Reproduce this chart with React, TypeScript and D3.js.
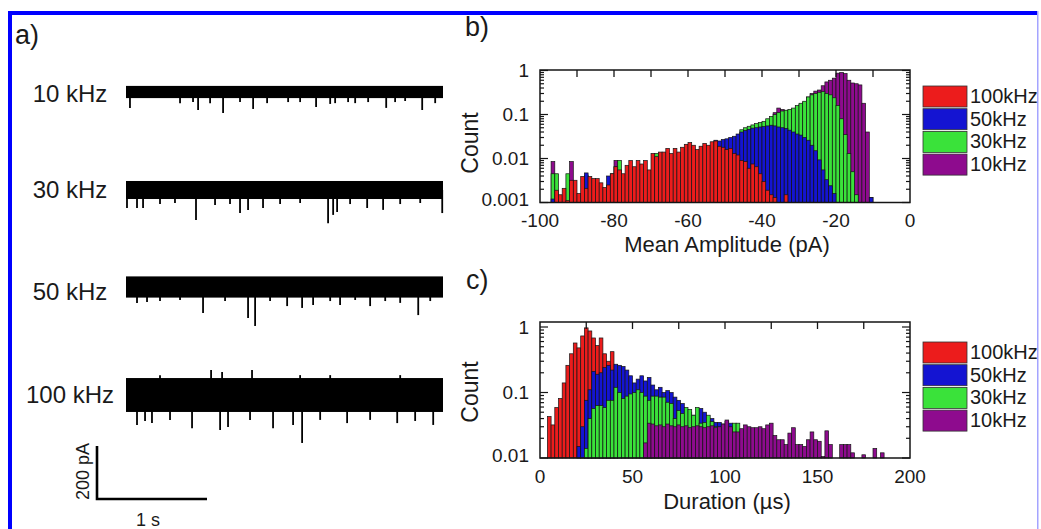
import React from "react";
import * as d3 from "d3";

const W = 1041;
const H = 529;
const FONT = "Liberation Sans, Arial, Helvetica, sans-serif";
const INK = "#1a1a1a";

// ---------- Panel a: current traces ----------
const traceLabels = ["10 kHz", "30 kHz", "50 kHz", "100 kHz"];
// half-width of the open-pore noise band, pA
const traceNoise = [23, 34, 40, 64];
// spikes: [time s, amplitude pA]
const spikes10kHz: [number, number][] = [
  [0.036, -60], [0.655, -68], [0.882, -79], [1.155, -64], [1.727, -57], [2.364, -60], [2.691, -68],
  [0.491, -42], [0.609, -38], [0.764, -42], [1.036, -38], [1.282, -42], [1.473, -38], [1.582, -38],
  [1.855, -45], [1.9, -42], [2.018, -38], [2.082, -42], [2.2, -38], [2.445, -38], [2.536, -34], [2.809, -42],
];
const spikes30kHz: [number, number][] = [
  [0.009, -68], [0.1, -68], [0.155, -68], [0.636, -113], [1.036, -87], [1.109, -75], [1.245, -68],
  [1.836, -125], [1.882, -94], [1.918, -83], [2.191, -68], [2.336, -75], [2.873, -87],
  [0.309, -53], [0.445, -49], [0.809, -57], [0.945, -53], [1.4, -53], [1.582, -49], [2.036, -53],
  [2.491, -53], [2.673, -49],
];
const spikes50kHz: [number, number][] = [
  [0.1, -60], [0.191, -57], [0.7, -98], [1.109, -117], [1.173, -147], [1.464, -72], [1.6, -79],
  [1.7, -68], [1.945, -68], [2.218, -72], [2.491, -60], [2.655, -106],
  [0.309, -53], [0.491, -49], [0.9, -53], [1.309, -53], [1.855, -53], [2.082, -49], [2.355, -53], [2.764, -53],
];
const spikes100kHz: [number, number][] = [
  [0.773, 94], [1.145, 94], [0.873, 87], [0.309, 75], [1.582, 75], [1.855, 75], [2.491, 75],
  [0.1, -113], [0.236, -106], [0.6, -125], [0.855, -132], [0.927, -121], [1.336, -125], [1.518, -113],
  [1.6, -181], [2.009, -106], [2.464, -106], [2.791, -113],
  [0.173, -98], [0.4, -94], [1.127, -94], [1.764, -94], [2.218, -94], [2.627, -98],
];
const traceSpikes = [spikes10kHz, spikes30kHz, spikes50kHz, spikes100kHz];
const traceDuration = 2.88; // s

// ---------- Panel b: mean amplitude histograms [bin left edge pA, normalized count] ----------
const amp100kHz: [number, number][] = [
  [-96, 0.0019], [-95, 0.0015], [-94, 0.0021], [-93, 0.0011], [-92, 0.0032], [-91, 0.0032], [-90, 0.0016],
  [-89, 0.0039], [-88, 0.0021], [-87, 0.0039], [-86, 0.0035], [-85, 0.0035], [-84, 0.0028], [-83, 0.0022],
  [-82, 0.0025], [-81, 0.0045], [-80, 0.0065], [-79, 0.0055], [-78, 0.0045], [-77, 0.007], [-76, 0.009],
  [-75, 0.0065], [-74, 0.009], [-73, 0.0075], [-72, 0.009], [-71, 0.0055], [-70, 0.013], [-69, 0.011],
  [-68, 0.014], [-67, 0.014], [-66, 0.017], [-65, 0.013], [-64, 0.017], [-63, 0.014], [-62, 0.018],
  [-61, 0.021], [-60, 0.023], [-59, 0.02], [-58, 0.016], [-57, 0.019], [-56, 0.022], [-55, 0.02],
  [-54, 0.024], [-53, 0.025], [-52, 0.019], [-51, 0.018], [-50, 0.016], [-49, 0.017], [-48, 0.013],
  [-47, 0.012], [-46, 0.009], [-45, 0.0085], [-44, 0.006], [-43, 0.0075], [-42, 0.0065], [-41, 0.0045],
  [-40, 0.003], [-39, 0.0019], [-38, 0.0015], [-37, 0.0013], [-34, 0.0015],
];
const amp50kHz: [number, number][] = [
  [-97, 0.0012], [-88, 0.0047], [-82, 0.004], [-81, 0.003],
  [-53, 0.026], [-52, 0.025], [-51, 0.027], [-50, 0.028], [-49, 0.03], [-48, 0.032], [-47, 0.036],
  [-46, 0.04], [-45, 0.043], [-44, 0.046], [-43, 0.049], [-42, 0.05], [-41, 0.052], [-40, 0.053],
  [-39, 0.055], [-38, 0.057], [-37, 0.055], [-36, 0.052], [-35, 0.05], [-34, 0.048], [-33, 0.044],
  [-32, 0.04], [-31, 0.036], [-30, 0.034], [-29, 0.03], [-28, 0.026], [-27, 0.02], [-26, 0.015],
  [-25, 0.0093], [-24, 0.0055], [-23, 0.0033], [-22, 0.0024], [-21, 0.0016], [-11, 0.0013],
];
const amp30kHz: [number, number][] = [
  [-97, 0.0045], [-96, 0.0045], [-93, 0.0045], [-88, 0.0042], [-81, 0.0045], [-80, 0.0065], [-79, 0.009],
  [-69, 0.013],
  [-46, 0.045], [-45, 0.05], [-44, 0.054], [-43, 0.058], [-42, 0.062], [-41, 0.066], [-40, 0.07],
  [-39, 0.08], [-38, 0.09], [-37, 0.1], [-36, 0.11], [-35, 0.12], [-34, 0.125], [-33, 0.13], [-32, 0.14],
  [-31, 0.16], [-30, 0.18], [-29, 0.2], [-28, 0.25], [-27, 0.28], [-26, 0.3], [-25, 0.32], [-24, 0.33],
  [-23, 0.3], [-22, 0.28], [-21, 0.24], [-20, 0.16], [-19, 0.08], [-18, 0.035], [-17, 0.013],
  [-16, 0.005], [-15, 0.0015],
];
const amp10kHz: [number, number][] = [
  [-97, 0.0085], [-92, 0.0085], [-80, 0.009],
  [-37, 0.11], [-36, 0.14], [-35, 0.13], [-34, 0.12], [-33, 0.125], [-32, 0.13], [-31, 0.15], [-30, 0.17],
  [-29, 0.19], [-28, 0.25], [-27, 0.3], [-26, 0.34], [-25, 0.36], [-24, 0.45], [-23, 0.55], [-22, 0.6],
  [-21, 0.67], [-20, 0.87], [-19, 0.9], [-18, 0.85], [-17, 0.6], [-16, 0.52], [-15, 0.5], [-14, 0.47],
  [-13, 0.18], [-12, 0.04], [-11, 0.0013],
];

// ---------- Panel c: duration histograms [bin left edge µs, normalized count] ----------
const dur100kHz: [number, number][] = [
  [4, 0.043], [6, 0.032], [8, 0.059], [10, 0.081], [12, 0.14], [14, 0.26], [16, 0.39], [18, 0.57],
  [20, 0.48], [22, 0.73], [24, 0.97], [26, 0.87], [28, 0.68], [30, 0.52], [32, 0.68], [34, 0.39],
  [36, 0.3], [38, 0.42], [40, 0.2],
];
const dur50kHz: [number, number][] = [
  [20, 0.015], [22, 0.03], [24, 0.076], [26, 0.11], [28, 0.21], [30, 0.19], [32, 0.2], [34, 0.24],
  [36, 0.26], [38, 0.22], [40, 0.27], [42, 0.26], [44, 0.25], [46, 0.22], [48, 0.18], [50, 0.14],
  [52, 0.16], [54, 0.18], [56, 0.15], [58, 0.17], [60, 0.13], [62, 0.11], [64, 0.12], [66, 0.1],
  [68, 0.107], [70, 0.1], [72, 0.085], [74, 0.076], [76, 0.068], [78, 0.055], [80, 0.05], [82, 0.045],
  [84, 0.04], [86, 0.057], [88, 0.05], [90, 0.034], [92, 0.04], [94, 0.035], [96, 0.035], [98, 0.033],
  [100, 0.036], [102, 0.034], [104, 0.028],
];
const dur30kHz: [number, number][] = [
  [24, 0.014], [26, 0.04], [28, 0.057], [30, 0.063], [32, 0.063], [34, 0.059], [36, 0.076], [38, 0.076],
  [40, 0.12], [42, 0.1], [44, 0.081], [46, 0.088], [48, 0.095], [50, 0.1], [52, 0.11], [54, 0.1],
  [56, 0.088], [58, 0.076], [60, 0.088], [62, 0.088], [64, 0.085], [66, 0.085], [68, 0.071], [70, 0.068],
  [72, 0.04], [74, 0.053], [76, 0.048], [78, 0.059], [80, 0.055], [82, 0.045], [84, 0.059], [86, 0.034],
  [88, 0.035], [90, 0.045], [92, 0.036], [94, 0.03], [96, 0.028], [98, 0.025], [100, 0.03], [102, 0.028],
  [104, 0.034], [106, 0.034], [108, 0.02],
];
const dur10kHz: [number, number][] = [
  [56, 0.017], [58, 0.034], [60, 0.033], [62, 0.031], [64, 0.032], [66, 0.03], [68, 0.033], [70, 0.031],
  [72, 0.03], [74, 0.032], [76, 0.03], [78, 0.031], [80, 0.029], [82, 0.03], [84, 0.031], [86, 0.03],
  [88, 0.029], [90, 0.03], [92, 0.031], [94, 0.029], [96, 0.03], [98, 0.033], [100, 0.038], [102, 0.03],
  [104, 0.025], [106, 0.025], [108, 0.028], [110, 0.032], [112, 0.03], [114, 0.029], [116, 0.029],
  [118, 0.03], [120, 0.028], [122, 0.032], [124, 0.034], [126, 0.022], [128, 0.019], [130, 0.019],
  [132, 0.016], [134, 0.024], [136, 0.029], [138, 0.016], [140, 0.016], [142, 0.015], [144, 0.019],
  [146, 0.025], [148, 0.019], [150, 0.018], [152, 0.0105], [154, 0.026], [156, 0.016], [162, 0.016],
  [164, 0.016], [166, 0.016], [168, 0.012], [174, 0.0112], [180, 0.014], [184, 0.012],
];

const seriesNames = ["100kHz", "50kHz", "30kHz", "10kHz"];
const seriesColors = ["#ec1c1c", "#1414d2", "#3ae23a", "#8e0b8e"];

const ampTickLabels = [-100, -80, -60, -40, -20, 0];
const ampTopTicks = [-90, -80, -70, -60, -50, -40, -30, -20, -10];
const durTickLabels = [0, 50, 100, 150, 200];
const durTopTicks = [25, 50, 75, 100, 125, 150, 175];
const ampYLabels: [number, string][] = [[1, "1"], [0.1, "0.1"], [0.01, "0.01"], [0.001, "0.001"]];
const durYLabels: [number, string][] = [[1, "1"], [0.1, "0.1"], [0.01, "0.01"]];

// ---------- components ----------
function Trace({ idx, center, labelY }: { idx: number; center: number; labelY: number }) {
  const x = d3.scaleLinear().domain([0, traceDuration]).range([126, 443]);
  const y = d3.scaleLinear().domain([0, 200]).range([center, center - 53]);
  const n = traceNoise[idx];
  return (
    <g>
      <text x={70} y={labelY} textAnchor="middle" fontSize={24} fontFamily={FONT} fill={INK}>
        {traceLabels[idx]}
      </text>
      <rect x={x(0)} y={y(n)} width={x(traceDuration) - x(0)} height={y(-n) - y(n)} fill="#000" />
      {traceSpikes[idx].map(([t, a], i) => (
        <line key={i} x1={x(t)} x2={x(t)} y1={y(0)} y2={y(a)} stroke="#000" strokeWidth={1.8} />
      ))}
    </g>
  );
}

function Bars({ data, color, x, y, w }: { data: [number, number][]; color: string; x: any; y: any; w: number }) {
  const y0 = y.range()[0];
  return (
    <g>
      {data
        .filter((d) => d[1] > y.domain()[0])
        .map(([b, v], i) => (
          <rect
            key={i}
            x={x(b)}
            y={y(v)}
            width={x(b + w) - x(b)}
            height={y0 - y(v)}
            fill={color}
            stroke="#151515"
            strokeWidth={0.7}
          />
        ))}
    </g>
  );
}

function LogTicks({ y, x0, x1 }: { y: any; x0: number; x1: number }) {
  const [lo, hi] = y.domain();
  const ticks: { v: number; major: boolean }[] = [];
  for (let e = Math.round(Math.log10(lo)); e <= Math.log10(hi) + 0.5; e++) {
    const d = Math.pow(10, e);
    for (let k = 1; k <= 9; k++) {
      const v = d * k;
      if (v >= lo * 0.999 && v <= hi * 1.2) ticks.push({ v, major: k === 1 });
    }
  }
  const top = Math.min(...y.range());
  return (
    <g stroke="#151515" strokeWidth={1.2}>
      {ticks
        .filter((t) => y(t.v) >= top - 0.5)
        .map((t, i) => (
          <g key={i}>
            <line x1={x0} x2={x0 + (t.major ? 8 : 4)} y1={y(t.v)} y2={y(t.v)} />
            <line x1={x1} x2={x1 - (t.major ? 8 : 4)} y1={y(t.v)} y2={y(t.v)} />
          </g>
        ))}
    </g>
  );
}

function Legend({ top }: { top: number }) {
  return (
    <g>
      {seriesNames.map((s, i) => (
        <g key={s}>
          <rect x={923} y={top + i * 22.7} width={44} height={21} fill={seriesColors[i]} stroke="#333" strokeWidth={0.8} />
          <text x={970} y={top + i * 22.7 + 17} fontSize={20} fontFamily={FONT} fill={INK}>
            {s}
          </text>
        </g>
      ))}
    </g>
  );
}

function Histogram({
  x, y, top, series, order, w, xTicks, topTicks, yLabels, xLabelY, title, titleY, countY, legendTop, fmt,
}: any) {
  const [yb] = y.range();
  const [xl, xr] = x.range();
  return (
    <g>
      {order.map((si: number) => (
        <Bars key={si} data={series[si]} color={seriesColors[si]} x={x} y={y} w={w} />
      ))}
      <rect x={xl} y={top} width={xr - xl} height={yb - top} fill="none" stroke="#151515" strokeWidth={1.5} />
      <g stroke="#151515" strokeWidth={1.3}>
        {topTicks.map((t: number) => (
          <line key={t} x1={x(t)} x2={x(t)} y1={top} y2={top + 7} />
        ))}
      </g>
      <LogTicks y={y} x0={xl} x1={xr} />
      {yLabels.map(([v, s]: [number, string]) => (
        <text key={s} x={529} y={Math.min(y(v), yb - 3)} dy="0.35em" textAnchor="end" fontSize={19} fontFamily={FONT} fill={INK}>
          {s}
        </text>
      ))}
      {xTicks.map((t: number) => (
        <text key={t} x={x(t)} y={xLabelY} textAnchor="middle" fontSize={19} fontFamily={FONT} fill={INK}>
          {fmt(t)}
        </text>
      ))}
      <text x={(xl + xr) / 2 + 2} y={titleY} textAnchor="middle" fontSize={22} fontFamily={FONT} fill={INK}>
        {title}
      </text>
      <text
        transform={`translate(478,${countY}) rotate(-90)`}
        textAnchor="middle"
        fontSize={23}
        fontFamily={FONT}
        fill={INK}
      >
        Count
      </text>
      <Legend top={legendTop} />
    </g>
  );
}

export default function App() {
  const xAmp = d3.scaleLinear().domain([-100, 0]).range([540, 910]);
  const yAmp = d3.scaleLog().domain([0.001, 1]).range([202.5, 70.5]);
  const xDur = d3.scaleLinear().domain([0, 200]).range([540, 910]);
  const yDur = d3.scaleLog().domain([0.01, 1]).range([458, 327]);

  const barX = d3.scaleLinear().domain([0, 1]).range([97, 207]);
  const barY = d3.scaleLinear().domain([0, 200]).range([499, 446]);

  const centers = [92, 190, 287, 395];
  const labelYs = [102, 198, 300, 403];

  return (
    <div style={{ position: "absolute", left: 0, top: 0 }}>
      <svg width={W} height={H} style={{ display: "block", background: "#fff" }}>
        <rect x={0} y={0} width={W} height={H} fill="#fff" />
        {/* blue frame */}
        <rect x={8} y={11} width={1030} height={4} fill="#0000ff" />
        <rect x={8} y={11} width={4} height={H - 11} fill="#0000ff" />
        <rect x={1037} y={11} width={1.5} height={H - 11} fill="#a4a4ff" />

        {/* panel labels */}
        <text x={15} y={44} fontSize={27} fontFamily={FONT} fill={INK}>a)</text>
        <text x={465} y={36} fontSize={27} fontFamily={FONT} fill={INK}>b)</text>
        <text x={466} y={289} fontSize={27} fontFamily={FONT} fill={INK}>c)</text>

        {/* panel a traces */}
        {centers.map((c, i) => (
          <Trace key={i} idx={i} center={c} labelY={labelYs[i]} />
        ))}
        {/* scale bar */}
        <path
          d={`M${barX(0)},${barY(200)} L${barX(0)},${barY(0)} L${barX(1)},${barY(0)}`}
          fill="none"
          stroke="#000"
          strokeWidth={2.6}
        />
        <text transform={`translate(89,${(barY(0) + barY(200)) / 2 - 1}) rotate(-90)`} textAnchor="middle" fontSize={18} fontFamily={FONT} fill={INK}>
          200 pA
        </text>
        <text x={(barX(0) + barX(1)) / 2 - 4} y={526} textAnchor="middle" fontSize={18} fontFamily={FONT} fill={INK}>
          1 s
        </text>

        {/* panel b */}
        <Histogram
          x={xAmp}
          y={yAmp}
          top={70}
          series={[amp100kHz, amp50kHz, amp30kHz, amp10kHz]}
          order={[3, 2, 1, 0]}
          w={1}
          xTicks={ampTickLabels}
          topTicks={ampTopTicks}
          yLabels={ampYLabels}
          xLabelY={227}
          title="Mean Amplitude (pA)"
          titleY={252}
          countY={143}
          legendTop={86}
          fmt={(t: number) => (t === 0 ? "0" : String(t))}
        />

        {/* panel c */}
        <Histogram
          x={xDur}
          y={yDur}
          top={322}
          series={[dur100kHz, dur50kHz, dur30kHz, dur10kHz]}
          order={[0, 1, 2, 3]}
          w={2}
          xTicks={durTickLabels}
          topTicks={durTopTicks}
          yLabels={durYLabels}
          xLabelY={483}
          title="Duration (µs)"
          titleY={509}
          countY={392}
          legendTop={342}
          fmt={(t: number) => String(t)}
        />
      </svg>
    </div>
  );
}
